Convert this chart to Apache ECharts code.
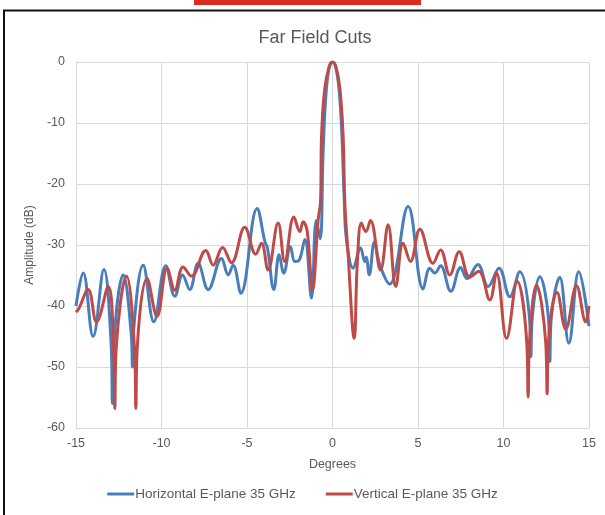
<!DOCTYPE html>
<html>
<head>
<meta charset="utf-8">
<script src="https://cdn.jsdelivr.net/npm/echarts@6/dist/echarts.min.js"></script>
<style>
html,body{margin:0;padding:0;background:#fff;}
#chart{width:605px;height:515px;}
</style>
</head>
<body>
<div id="chart"></div>
<script>
// Tick values
const xTicks = [-15, -10, -5, 0, 5, 10, 15];
const yTicks = [-60, -50, -40, -30, -20, -10, 0];

// Horizontal E-plane 35 GHz
const hDeg = [-15.00,-14.58,-14.00,-13.37,-12.95,-12.87,-12.78,-12.24,-11.76,-11.70,-11.63,-11.07,-10.45,-9.75,-9.22,-8.77,-8.35,-7.86,-7.27,-6.49,-6.10,-5.81,-5.36,-4.41,-3.95,-3.80,-3.43,-3.12,-2.85,-2.46,-2.20,-1.95,-1.62,-1.23,-0.95,-0.72,-0.55,-0.40,-0.20,0.00,0.20,0.40,0.55,0.68,0.82,1.21,1.64,1.89,1.97,2.15,2.45,2.77,3.35,4.42,5.30,5.69,5.98,6.32,6.92,7.49,7.87,8.50,9.10,9.74,10.37,10.95,11.52,11.60,11.68,12.12,12.63,12.71,12.79,13.29,13.82,14.40,15.00];
const hAmp = [-40.0,-34.6,-45.0,-34.0,-46.0,-56.0,-46.0,-34.9,-45.0,-50.0,-44.0,-33.3,-42.6,-33.4,-38.4,-34.9,-37.3,-33.0,-37.3,-32.2,-34.9,-33.3,-37.9,-24.0,-29.5,-30.5,-37.3,-31.6,-34.6,-30.3,-32.7,-32.5,-29.1,-38.7,-26.0,-29.0,-15.0,-6.0,-1.0,0.0,-1.0,-5.0,-12.0,-22.0,-29.2,-33.8,-30.5,-32.7,-32.0,-34.9,-29.5,-33.3,-36.4,-23.7,-37.2,-33.8,-34.6,-33.4,-37.6,-33.7,-35.5,-33.2,-36.8,-33.8,-38.5,-34.4,-42.0,-48.3,-42.0,-35.2,-42.0,-49.1,-42.0,-35.3,-46.1,-34.4,-43.3];

// Vertical E-plane 35 GHz
const vDeg = [-15.00,-14.85,-14.29,-13.80,-13.12,-12.80,-12.73,-12.65,-12.05,-11.58,-11.50,-11.42,-10.84,-10.26,-9.67,-9.22,-8.74,-8.25,-7.41,-6.98,-6.43,-5.91,-5.13,-4.49,-4.15,-3.77,-3.18,-2.79,-2.26,-1.91,-1.72,-1.48,-1.17,-0.84,-0.70,-0.64,-0.45,-0.20,0.00,0.20,0.43,0.62,0.72,0.90,1.27,1.45,1.69,1.95,2.22,2.81,3.25,3.70,4.13,4.56,5.11,5.88,6.32,6.86,7.41,8.03,8.55,9.20,9.59,10.18,10.80,11.36,11.44,11.52,11.93,12.47,12.55,12.63,13.14,13.64,14.27,14.81,15.00];
const vAmp = [-41.0,-40.5,-37.3,-42.6,-36.8,-47.0,-56.8,-47.0,-35.1,-47.0,-56.8,-47.0,-35.5,-41.7,-33.8,-37.4,-33.6,-35.1,-30.9,-33.3,-30.4,-32.9,-27.1,-31.5,-29.7,-34.1,-26.4,-32.7,-25.4,-27.8,-26.2,-27.7,-37.4,-25.9,-22.9,-12.0,-4.3,-0.8,0.0,-0.8,-4.3,-12.0,-23.0,-31.0,-45.3,-33.0,-26.4,-27.8,-26.0,-34.1,-26.7,-36.8,-29.7,-32.7,-27.4,-33.0,-30.8,-34.9,-31.1,-35.3,-34.3,-39.0,-34.6,-45.3,-36.0,-46.0,-54.9,-46.0,-36.6,-46.0,-54.4,-46.0,-37.8,-43.8,-36.7,-42.6,-40.0];

const seriesNames = ['Horizontal E-plane 35 GHz', 'Vertical E-plane 35 GHz'];

const zip = (a, b) => a.map((v, i) => [v, b[i]]);
const FONT = 'Liberation Sans, Arial, sans-serif';
const TXT = '#595959';

const chart = echarts.init(document.getElementById('chart'), null, {renderer: 'canvas'});
chart.setOption({
  animation: false,
  backgroundColor: '#ffffff',
  title: {
    text: 'Far Field Cuts',
    left: 310, top: 24, textAlign: 'center',
    textStyle: {fontFamily: FONT, fontSize: 18, fontWeight: 'normal', color: TXT}
  },
  grid: {left: 76, right: 16, top: 62, bottom: 87, containLabel: false},
  xAxis: {
    type: 'value', min: xTicks[0], max: xTicks[xTicks.length - 1], interval: 5,
    name: 'Degrees', nameLocation: 'middle', nameGap: 30,
    nameTextStyle: {fontFamily: FONT, fontSize: 12.5, color: TXT},
    axisLine: {onZero: false, lineStyle: {color: '#d9d9d9', width: 1}},
    axisTick: {show: false},
    axisLabel: {fontFamily: FONT, fontSize: 12.5, color: TXT, margin: 9},
    splitLine: {show: true, lineStyle: {color: '#d9d9d9', width: 1}}
  },
  yAxis: {
    type: 'value', min: yTicks[0], max: yTicks[yTicks.length - 1], interval: 10,
    name: 'Amplitude (dB)', nameLocation: 'middle', nameGap: 37, nameRotate: 90,
    nameTextStyle: {fontFamily: FONT, fontSize: 12, color: TXT},
    axisLine: {show: true, onZero: false, lineStyle: {color: '#d9d9d9', width: 1}},
    axisTick: {show: false},
    axisLabel: {fontFamily: FONT, fontSize: 12.5, color: TXT, margin: 11},
    splitLine: {show: true, lineStyle: {color: '#d9d9d9', width: 1}}
  },
  legend: {
    bottom: 9, left: 'center',
    itemWidth: 27, itemHeight: 3, itemGap: 30, icon: 'rect',
    textStyle: {fontFamily: FONT, fontSize: 13.5, color: TXT, padding: [0, 0, 0, -4]},
    data: seriesNames
  },
  series: [
    {name: seriesNames[0], type: 'line', data: zip(hDeg, hAmp), smooth: 0.4, showSymbol: false, symbol: 'none',
     itemStyle: {color: '#4A7EBB'}, lineStyle: {color: '#4A7EBB', width: 3}},
    {name: seriesNames[1], type: 'line', data: zip(vDeg, vAmp), smooth: 0.4, showSymbol: false, symbol: 'none',
     itemStyle: {color: '#BE4B48'}, lineStyle: {color: '#BE4B48', width: 3}}
  ],
  graphic: [
    {type: 'rect', shape: {x: 194, y: 0, width: 227, height: 5}, style: {fill: '#D92B20'}, silent: true},
    {type: 'rect', shape: {x: 4, y: 10.5, width: 700, height: 600}, style: {fill: 'none', stroke: '#111', lineWidth: 2}, silent: true}
  ]
});
</script>
</body>
</html>
